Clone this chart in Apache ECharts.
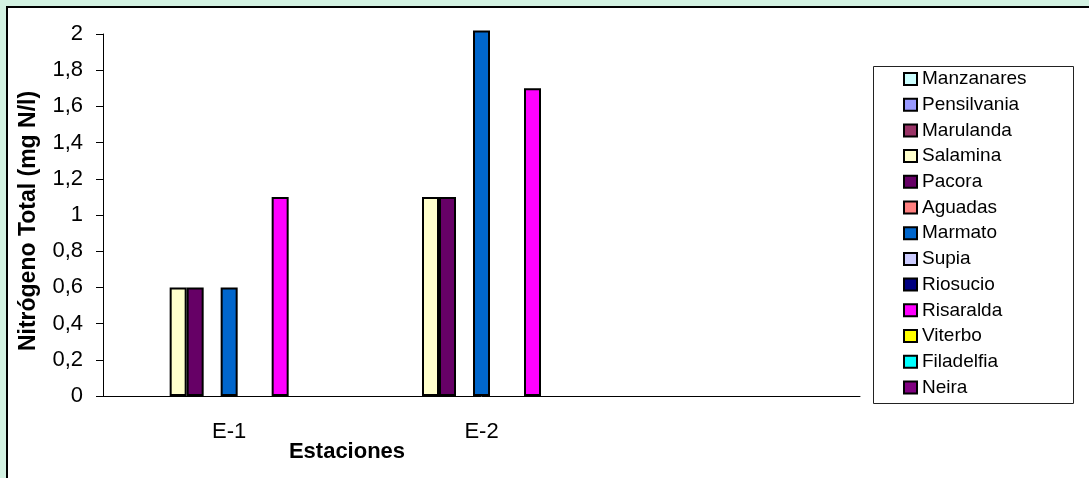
<!DOCTYPE html>
<html>
<head>
<meta charset="utf-8">
<script src="https://cdn.jsdelivr.net/npm/echarts@6/dist/echarts.min.js"></script>
<style>
  html, body { margin: 0; padding: 0; background: #d3f2e2; }
  #chart { width: 1089px; height: 478px; }
</style>
</head>
<body>
<div id="chart"></div>
<script>
// estaciones y municipios
var categories = ['E-1', 'E-2', ''];
var municipios = ['Manzanares', 'Pensilvania', 'Marulanda', 'Salamina', 'Pacora', 'Aguadas',
    'Marmato', 'Supia', 'Riosucio', 'Risaralda', 'Viterbo', 'Filadelfia', 'Neira'];
var colores = ['#ccffff', '#9999ff', '#993366', '#ffffcc', '#660066', '#ff8080',
    '#0066cc', '#ccccff', '#000080', '#ff00ff', '#ffff00', '#00ffff', '#800080'];

// Nitrogeno total (mg N/l) por municipio, [E-1, E-2, vacio]
var manzanares  = [null, null, null];
var pensilvania = [null, null, null];
var marulanda   = [null, null, null];
var salamina    = [0.6, 1.1, null];
var pacora      = [0.6, 1.1, null];
var aguadas     = [null, null, null];
var marmato     = [0.6, 2.02, null];
var supia       = [null, null, null];
var riosucio    = [null, null, null];
var risaralda   = [1.1, 1.7, null];
var viterbo     = [null, null, null];
var filadelfia  = [null, null, null];
var neira       = [null, null, null];

var valores = [manzanares, pensilvania, marulanda, salamina, pacora, aguadas,
    marmato, supia, riosucio, risaralda, viterbo, filadelfia, neira];

var yTicks = ['0', '0,2', '0,4', '0,6', '0,8', '1', '1,2', '1,4', '1,6', '1,8', '2'];

var fuente = 'Arial, "Liberation Sans", sans-serif';

var series = [];
for (var i = 0; i < municipios.length; i++) {
    series.push({
        name: municipios[i],
        type: 'bar',
        data: valores[i],
        barWidth: 17,
        barGap: '0%',
        clip: false,
        itemStyle: {
            color: colores[i],
            borderColor: '#000',
            borderWidth: 2
        }
    });
}

var myChart = echarts.init(document.getElementById('chart'));

var option = {
    animation: false,
    backgroundColor: 'transparent',
    textStyle: { fontFamily: fuente },
    graphic: [
        // marco blanco
        {
            type: 'rect', z: -10, silent: true,
            shape: { x: 7, y: 7, width: 1100, height: 490 },
            style: { fill: '#fff', stroke: '#000', lineWidth: 2 }
        },
        // marco de la leyenda
        {
            type: 'rect', z: -5, silent: true,
            shape: { x: 873.5, y: 66.5, width: 200, height: 337 },
            style: { fill: '#fff', stroke: '#222', lineWidth: 1 }
        },
        {
            type: 'text', x: 347, y: 452,
            style: {
                text: 'Estaciones', font: 'bold 22px ' + fuente, fill: '#000',
                align: 'center', verticalAlign: 'middle'
            }
        },
        {
            type: 'text', x: 29, y: 221, rotation: Math.PI / 2,
            style: {
                text: 'Nitrógeno Total (mg N/l)', font: 'bold 23px ' + fuente, fill: '#000',
                align: 'center', verticalAlign: 'middle'
            }
        }
    ],
    legend: {
        orient: 'vertical',
        left: 903,
        top: 69,
        icon: 'rect',
        itemWidth: 13,
        itemHeight: 12,
        itemGap: 5.7,
        itemTextGap: 9,
        padding: 0,
        textStyle: { fontSize: 19, lineHeight: 20, color: '#000', fontFamily: fuente },
        data: municipios
    },
    grid: {
        left: 103,
        right: 229,
        top: 34,
        bottom: 82
    },
    xAxis: {
        type: 'category',
        data: categories,
        axisLine: { lineStyle: { color: '#000', width: 1 } },
        axisTick: { length: 6, lineStyle: { color: '#555' } },
        axisLabel: { fontSize: 22, color: '#000', margin: 25, fontFamily: fuente }
    },
    yAxis: {
        type: 'value',
        min: 0,
        max: 2,
        interval: 0.2,
        axisLine: { show: true, lineStyle: { color: '#000', width: 1 } },
        axisTick: { show: true, length: 7, lineStyle: { color: '#000' } },
        splitLine: { show: false },
        axisLabel: {
            fontSize: 22,
            color: '#000',
            margin: 20,
            fontFamily: fuente,
            formatter: function (v) {
                return yTicks[Math.round(v / 0.2)];
            }
        }
    },
    series: series
};

myChart.setOption(option);
</script>
</body>
</html>
